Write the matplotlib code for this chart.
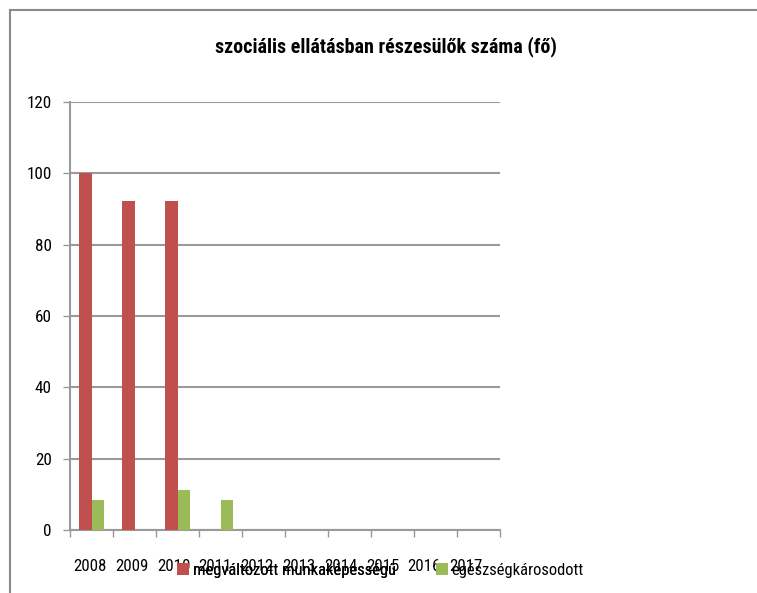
import matplotlib
matplotlib.use("Agg")
import matplotlib.pyplot as plt
from matplotlib.lines import Line2D
from matplotlib.patches import Patch
from matplotlib import font_manager
import numpy as np

years = ["2008", "2009", "2010", "2011", "2012", "2013", "2014", "2015", "2016", "2017"]
megvaltozott = [100, 92.3, 92.3, 0, 0, 0, 0, 0, 0, 0]
egeszsegkarosodott = [8.3, 0, 11.1, 8.3, 0, 0, 0, 0, 0, 0]
series_names = ["megváltozott munkaképességű", "egészségkárosodott"]
title = "szociális ellátásban részesülők száma (fő)"

available = {f.name for f in font_manager.fontManager.ttflist}
prefs = ["Liberation Sans Narrow", "DejaVu Sans Condensed", "Roboto Condensed",
         "Open Sans Condensed", "Noto Sans Condensed", "Roboto", "DejaVu Sans"]
main_font = next(f for f in prefs if f in available)
plt.rcParams['font.family'] = [main_font, 'DejaVu Sans']

W, H = 757, 593
fig = plt.figure(figsize=(W / 100, H / 100), dpi=100)
renderer = fig.canvas.get_renderer()


def fit_size(text, target_px, weight="normal", base=12.0):
    t = fig.text(0, 0, text, fontsize=base, fontweight=weight)
    wpx = t.get_window_extent(renderer).width
    t.remove()
    return base * target_px / wpx


tick_fs = fit_size("2008", 33)
ylab_fs = fit_size("120", 25)
title_fs = fit_size(title, 343, weight="bold")
leg_fs = fit_size(series_names[1], 132)

ax = fig.add_axes([70 / W, 1 - 530 / H, 430 / W, 428 / H])

x = np.arange(len(years))
w = 0.2857
red = "#C0504D"
green = "#9BBB59"
ax.bar(x - w / 2, megvaltozott, width=w, color=red, zorder=3)
ax.bar(x + w / 2, egeszsegkarosodott, width=w, color=green, zorder=3)

ax.set_xlim(-0.5, len(years) - 0.5)
ax.set_ylim(0, 120)
ax.set_yticks(np.arange(0, 121, 20))
ax.yaxis.grid(True, color="#9a9a9a", linewidth=1.5, zorder=0)
ax.set_axisbelow(True)

# category labels are rendered slightly compressed in the reference
ax.set_xticks(x * 0.972 - 0.035)
ax.set_xticklabels(years, fontsize=tick_fs)
ax.set_xticks(np.arange(-0.5, len(years), 1), minor=True)
ax.tick_params(axis='x', which='major', length=0, pad=21)
ax.tick_params(axis='x', which='minor', length=5, width=1, color="#9a9a9a")
ax.tick_params(axis='y', length=5, width=1, color="#9a9a9a", labelsize=ylab_fs, pad=8)

for s in ["top", "right"]:
    ax.spines[s].set_visible(False)
for s in ["left", "bottom"]:
    ax.spines[s].set_color("#9a9a9a")
    ax.spines[s].set_linewidth(1.5)

fig.text(386 / W, 1 - 47 / H, title, ha="center", va="center", fontsize=title_fs, fontweight="bold")

leg_kw = dict(loc="center left", frameon=False, fontsize=leg_fs, handlelength=0.75,
              handleheight=0.75, handletextpad=0.2, borderaxespad=0, borderpad=0)
leg1 = fig.legend([Patch(facecolor=red)], [series_names[0]],
                  bbox_to_anchor=(177 / W, 1 - 570 / H), **leg_kw)
fig.add_artist(leg1)
leg2 = fig.legend([Patch(facecolor=green)], [series_names[1]],
                  bbox_to_anchor=(436 / W, 1 - 570 / H), **leg_kw)

# outer frame (left and top edges visible)
fig.add_artist(Line2D([10 / W, 10 / W], [0, 1 - 10 / H], color="#8a8a8a", linewidth=1.5))
fig.add_artist(Line2D([10 / W, 1], [1 - 10 / H, 1 - 10 / H], color="#8a8a8a", linewidth=1.5))

fig.savefig("out.png", dpi=100)
